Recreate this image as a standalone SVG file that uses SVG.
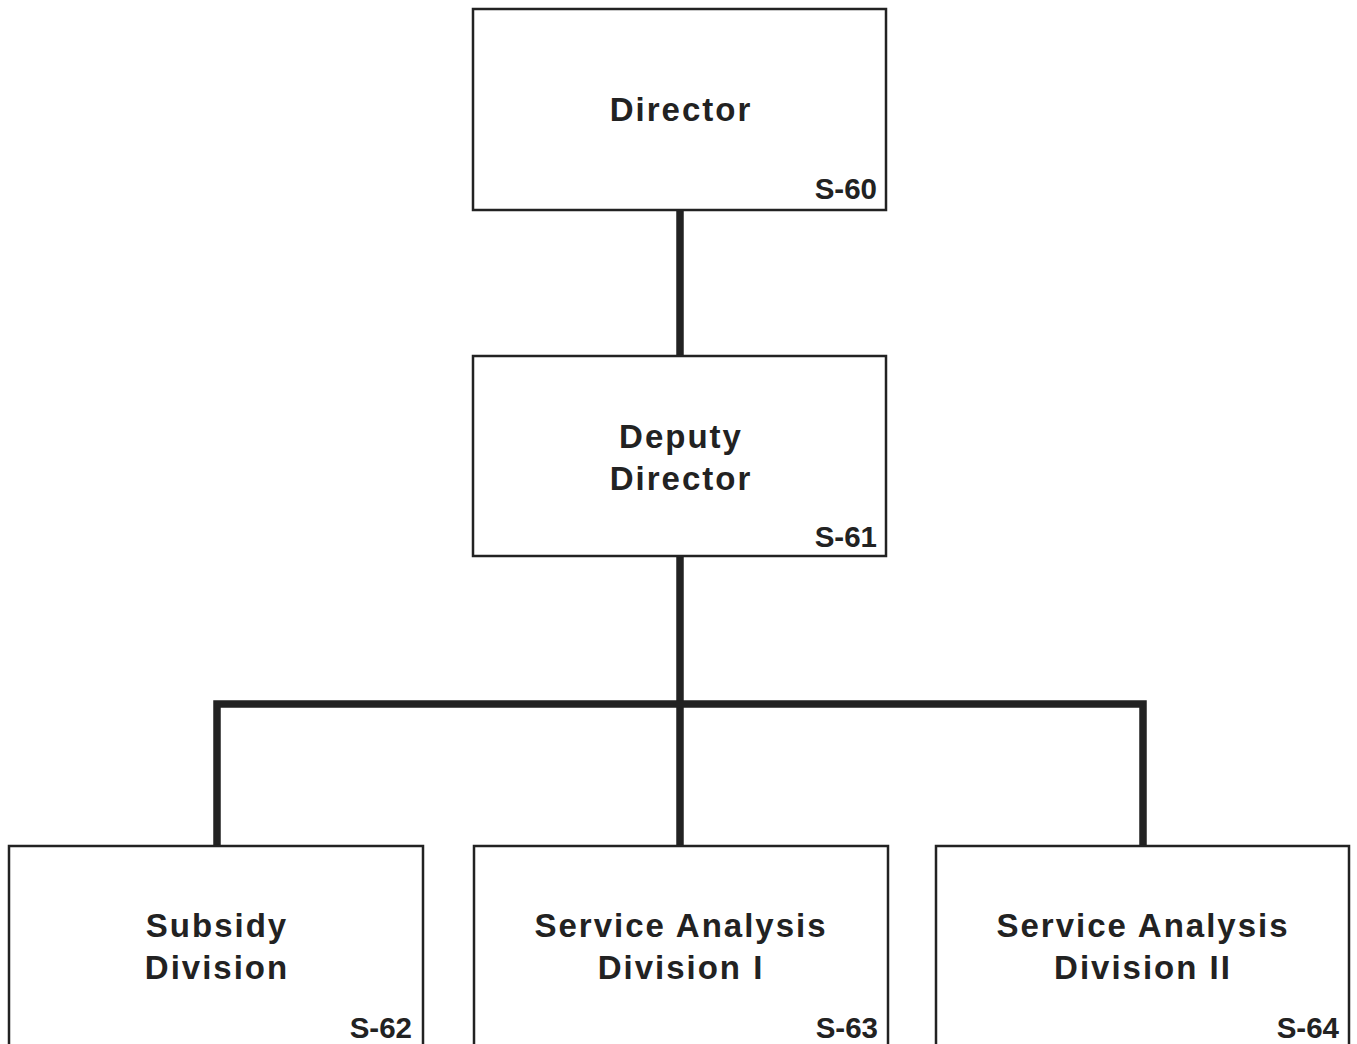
<svg xmlns="http://www.w3.org/2000/svg" width="1357" height="1044" viewBox="0 0 1357 1044">
<style>
.box{fill:#ffffff;stroke:#222;stroke-width:2.5}
.lbl{font-family:"Liberation Sans",Arial,sans-serif;font-weight:bold;font-size:33px;letter-spacing:2px;fill:#222;text-anchor:middle}
.code{font-family:"Liberation Sans",Arial,sans-serif;font-weight:bold;font-size:29.5px;fill:#222;text-anchor:end}
.conn{stroke:#222;stroke-width:7.5;fill:none;stroke-linecap:square;stroke-linejoin:miter}
</style>
<rect width="1357" height="1044" fill="#ffffff"/>
<g id="connectors">
<line class="conn" x1="680" y1="212" x2="680" y2="354"/>
<line class="conn" x1="680" y1="558" x2="680" y2="844"/>
<polyline class="conn" points="217,844 217,704 1143,704 1143,844"/>
</g>
<g id="director">
<rect class="box" x="473" y="9" width="413" height="201"/>
<text class="lbl" x="681" y="121">Director</text>
<text class="code" x="877" y="199">S-60</text>
</g>
<g id="deputy-director">
<rect class="box" x="473" y="356" width="413" height="200"/>
<text class="lbl" x="681" y="448">Deputy</text>
<text class="lbl" x="681" y="490">Director</text>
<text class="code" x="877" y="547">S-61</text>
</g>
<g id="subsidy-division">
<rect class="box" x="9" y="846" width="414" height="210"/>
<text class="lbl" x="217" y="937">Subsidy</text>
<text class="lbl" x="217" y="979">Division</text>
<text class="code" x="412" y="1038">S-62</text>
</g>
<g id="service-analysis-1">
<rect class="box" x="474" y="846" width="414" height="210"/>
<text class="lbl" x="681" y="937">Service Analysis</text>
<text class="lbl" x="681" y="979">Division I</text>
<text class="code" x="878" y="1038">S-63</text>
</g>
<g id="service-analysis-2">
<rect class="box" x="936" y="846" width="413" height="210"/>
<text class="lbl" x="1143" y="937">Service Analysis</text>
<text class="lbl" x="1143" y="979">Division II</text>
<text class="code" x="1339" y="1038">S-64</text>
</g>
</svg>
